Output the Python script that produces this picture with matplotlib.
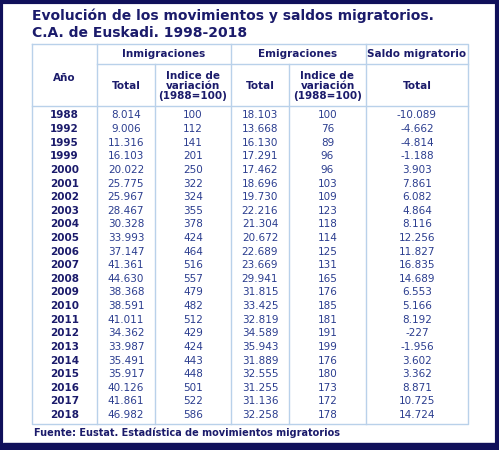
import matplotlib
matplotlib.use("Agg")
import matplotlib.pyplot as plt
from matplotlib.patches import Rectangle

years = [1988,1992,1995,1999,2000,2001,2002,2003,2004,2005,2006,2007,2008,2009,2010,2011,2012,2013,2014,2015,2016,2017,2018]
inm_total = ["8.014","9.006","11.316","16.103","20.022","25.775","25.967","28.467","30.328","33.993","37.147","41.361","44.630","38.368","38.591","41.011","34.362","33.987","35.491","35.917","40.126","41.861","46.982"]
inm_idx = [100,112,141,201,250,322,324,355,378,424,464,516,557,479,482,512,429,424,443,448,501,522,586]
emi_total = ["18.103","13.668","16.130","17.291","17.462","18.696","19.730","22.216","21.304","20.672","22.689","23.669","29.941","31.815","33.425","32.819","34.589","35.943","31.889","32.555","31.255","31.136","32.258"]
emi_idx = [100,76,89,96,96,103,109,123,118,114,125,131,165,176,185,181,191,199,176,180,173,172,178]
saldo = ["-10.089","-4.662","-4.814","-1.188","3.903","7.861","6.082","4.864","8.116","12.256","11.827","16.835","14.689","6.553","5.166","8.192","-227","-1.956","3.602","3.362","8.871","10.725","14.724"]

title1 = "Evolución de los movimientos y saldos migratorios."
title2 = "C.A. de Euskadi. 1998-2018"
source = "Fuente: Eustat. Estadística de movimientos migratorios"

navy = "#1b1b6b"
blue = "#2b3d8f"
grid = "#b9d1ea"

fig = plt.figure(figsize=(4.99, 4.5), dpi=100)
ax = fig.add_axes([0, 0, 1, 1])
ax.set_xlim(0, 499); ax.set_ylim(450, 0); ax.axis("off")

# border
ax.add_patch(Rectangle((1.5, 1.5), 496, 447, fill=False, ec="#10105a", lw=3))
ax.add_patch(Rectangle((3, 443), 493, 5, color="#10105a"))

ax.text(32, 16, title1, fontsize=10, fontweight="bold", color=navy, va="center")
ax.text(32, 33, title2, fontsize=10, fontweight="bold", color=navy, va="center")

L, R = 32, 468
top, h1, h2 = 44, 64, 106
cols = [L, 97, 155, 231, 289, 366, R]
lw = 1.0
# outer table box
ax.plot([L, R, R, L, L], [top, top, 424, 424, top], color=grid, lw=lw)
for x in cols[1:-1]:
    ax.plot([x, x], [top if x in (97, 231, 366) else h1, 424], color=grid, lw=lw)
ax.plot([97, R], [h1, h1], color=grid, lw=lw)
ax.plot([L, R], [h2, h2], color=grid, lw=lw)

hk = dict(fontsize=7.5, fontweight="bold", color=navy, ha="center", va="center")
ax.text(64.5, 78, "Año", **hk)
ax.text(164, 54, "Inmigraciones", **hk)
ax.text(298, 54, "Emigraciones", **hk)
ax.text(417, 54, "Saldo migratorio", **hk)
for x in [(97+155)/2, (231+289)/2]:
    ax.text(x, 86, "Total", **hk)
for x in [(155+231)/2, (289+366)/2]:
    ax.text(x, 86, "Indice de\nvariación\n(1988=100)", linespacing=1.05, **hk)
ax.text((366+468)/2, 86, "Total", **hk)

y0, dy = 115.5, (415 - 115.5) / (len(years) - 1)
dk = dict(fontsize=7.5, color=blue, ha="center", va="center")
for i, yr in enumerate(years):
    y = y0 + i * dy
    ax.text(64.5, y, str(yr), fontsize=7.5, fontweight="bold", color=navy, ha="center", va="center")
    ax.text(126, y, inm_total[i], **dk)
    ax.text(193, y, str(inm_idx[i]), **dk)
    ax.text(260, y, emi_total[i], **dk)
    ax.text(327.5, y, str(emi_idx[i]), **dk)
    ax.text(417, y, saldo[i], **dk)

ax.text(34, 433, source, fontsize=7, fontweight="bold", color=navy, va="center")

fig.savefig("out.png", dpi=100)
